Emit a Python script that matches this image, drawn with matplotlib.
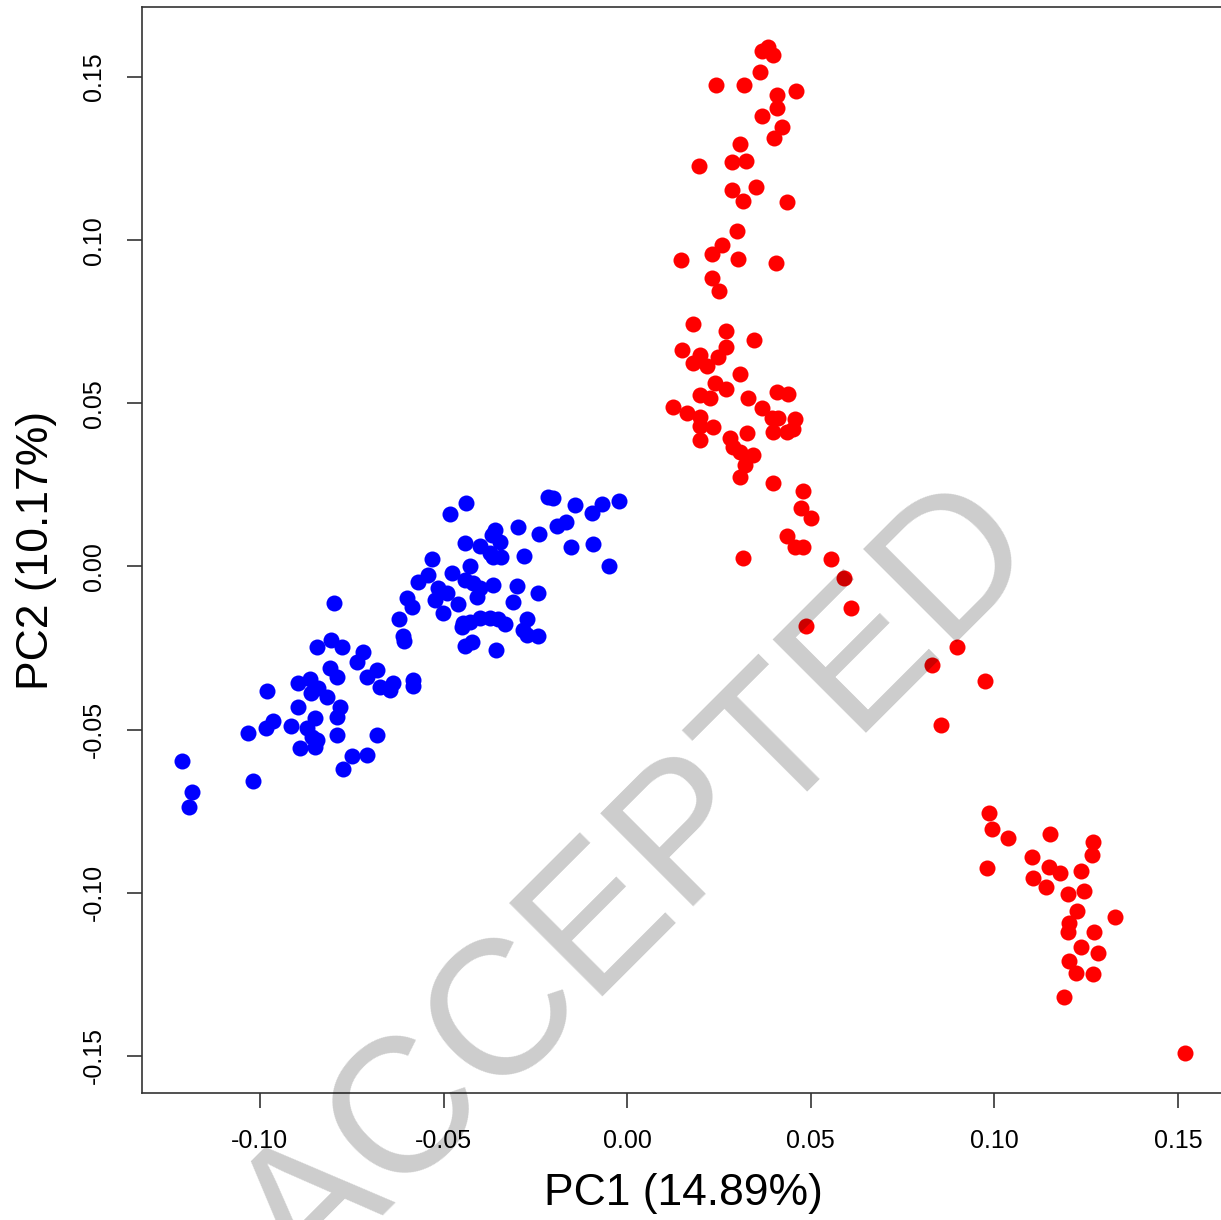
import numpy as np
import matplotlib
matplotlib.use('Agg')
import matplotlib.pyplot as plt

plt.rcParams['font.family'] = ['Liberation Sans', 'DejaVu Sans']
plt.rcParams['axes.unicode_minus'] = False

# PCA scores, group 1 (blue)
pc1_blue = [-0.1212, -0.1185, -0.1193, -0.1019, -0.1033, -0.0981, -0.0965, -0.0984,
            -0.0916, -0.0897, -0.0864, -0.0842, -0.0861, -0.0897, -0.0872, -0.0858,
            -0.0891, -0.0850, -0.0845, -0.0850, -0.0818, -0.0782, -0.0790, -0.0790,
            -0.0749, -0.0709, -0.0774, -0.0681, -0.0798, -0.0845, -0.0807, -0.0777,
            -0.0719, -0.0736, -0.0809, -0.0790, -0.0681, -0.0709, -0.0673, -0.0638,
            -0.0646, -0.0583, -0.0583, -0.0611, -0.0608, -0.0621, -0.0600, -0.0586,
            -0.0570, -0.0542, -0.0532, -0.0515, -0.0491, -0.0523, -0.0502, -0.0461,
            -0.0477, -0.0483, -0.0439, -0.0442, -0.0428, -0.0442, -0.0420, -0.0401,
            -0.0409, -0.0365, -0.0401, -0.0374, -0.0365, -0.0344, -0.0360, -0.0368,
            -0.0346, -0.0297, -0.0281, -0.0240, -0.0300, -0.0243, -0.0311, -0.0447,
            -0.0428, -0.0401, -0.0374, -0.0352, -0.0333, -0.0273, -0.0284, -0.0450,
            -0.0243, -0.0273, -0.0442, -0.0423, -0.0357, -0.0216, -0.0202, -0.0191,
            -0.0167, -0.0142, -0.0096, -0.0069, -0.0022, -0.0153, -0.0093, -0.0050]
pc2_blue = [-0.0596, -0.0691, -0.0737, -0.0657, -0.0510, -0.0382, -0.0473, -0.0495,
            -0.0489, -0.0357, -0.0345, -0.0372, -0.0388, -0.0431, -0.0495, -0.0523,
            -0.0556, -0.0553, -0.0532, -0.0464, -0.0400, -0.0431, -0.0461, -0.0516,
            -0.0581, -0.0578, -0.0621, -0.0516, -0.0112, -0.0247, -0.0225, -0.0247,
            -0.0262, -0.0293, -0.0311, -0.0339, -0.0317, -0.0339, -0.0369, -0.0357,
            -0.0378, -0.0348, -0.0366, -0.0213, -0.0228, -0.0161, -0.0097, -0.0124,
            -0.0048, -0.0026, 0.0023, -0.0066, -0.0081, -0.0103, -0.0143, -0.0115,
            -0.0020, 0.0161, 0.0195, 0.0072, 0.0002, -0.0041, -0.0051, -0.0066,
            -0.0093, -0.0057, 0.0063, 0.0041, 0.0029, 0.0029, 0.0112, 0.0097,
            0.0075, 0.0121, 0.0032, 0.0100, -0.0060, -0.0081, -0.0109, -0.0173,
            -0.0170, -0.0158, -0.0158, -0.0161, -0.0176, -0.0161, -0.0195, -0.0185,
            -0.0213, -0.0210, -0.0244, -0.0231, -0.0256, 0.0213, 0.0210, 0.0124,
            0.0136, 0.0188, 0.0164, 0.0192, 0.0201, 0.0060, 0.0069, 0.0002]

# PCA scores, group 2 (red)
pc1_red = [0.0367, 0.0383, 0.0397, 0.0362, 0.0242, 0.0318, 0.0408, 0.0460,
           0.0408, 0.0367, 0.0422, 0.0400, 0.0307, 0.0196, 0.0285, 0.0324,
           0.0351, 0.0285, 0.0315, 0.0435, 0.0299, 0.0258, 0.0231, 0.0302,
           0.0147, 0.0405, 0.0231, 0.0250, 0.0179, 0.0269, 0.0345, 0.0269,
           0.0149, 0.0198, 0.0247, 0.0179, 0.0217, 0.0307, 0.0239, 0.0269,
           0.0198, 0.0225, 0.0329, 0.0408, 0.0438, 0.0125, 0.0163, 0.0198,
           0.0367, 0.0394, 0.0411, 0.0457, 0.0234, 0.0198, 0.0326, 0.0280,
           0.0397, 0.0435, 0.0452, 0.0198, 0.0288, 0.0307, 0.0343, 0.0321,
           0.0307, 0.0397, 0.0479, 0.0473, 0.0501, 0.0435, 0.0457, 0.0479,
           0.0315, 0.0555, 0.0590, 0.0609, 0.0487, 0.0898, 0.0830, 0.0974,
           0.0855, 0.0985, 0.0993, 0.1037, 0.1151, 0.1269, 0.1266, 0.0980,
           0.1102, 0.1149, 0.1179, 0.1236, 0.1105, 0.1141, 0.1200, 0.1244,
           0.1225, 0.1328, 0.1203, 0.1200, 0.1271, 0.1236, 0.1282, 0.1203,
           0.1222, 0.1269, 0.1190, 0.1519]
pc2_red = [0.1580, 0.1592, 0.1568, 0.1515, 0.1476, 0.1476, 0.1445, 0.1457,
           0.1405, 0.1381, 0.1347, 0.1313, 0.1295, 0.1227, 0.1240, 0.1243,
           0.1163, 0.1154, 0.1120, 0.1117, 0.1028, 0.0985, 0.0958, 0.0942,
           0.0939, 0.0930, 0.0884, 0.0844, 0.0743, 0.0722, 0.0694, 0.0673,
           0.0663, 0.0648, 0.0642, 0.0624, 0.0614, 0.0590, 0.0562, 0.0544,
           0.0526, 0.0516, 0.0516, 0.0535, 0.0529, 0.0489, 0.0470, 0.0458,
           0.0486, 0.0455, 0.0455, 0.0452, 0.0428, 0.0431, 0.0409, 0.0394,
           0.0412, 0.0412, 0.0421, 0.0388, 0.0366, 0.0351, 0.0342, 0.0311,
           0.0274, 0.0256, 0.0231, 0.0179, 0.0149, 0.0093, 0.0060, 0.0060,
           0.0026, 0.0023, -0.0035, -0.0127, -0.0182, -0.0247, -0.0302, -0.0351,
           -0.0486, -0.0755, -0.0804, -0.0832, -0.0820, -0.0844, -0.0884, -0.0924,
           -0.0890, -0.0921, -0.0939, -0.0933, -0.0955, -0.0982, -0.1004, -0.0994,
           -0.1056, -0.1074, -0.1093, -0.1120, -0.1120, -0.1166, -0.1185, -0.1209,
           -0.1246, -0.1249, -0.1319, -0.1491]

xticks = [-0.10, -0.05, 0.00, 0.05, 0.10, 0.15]
yticks = [-0.15, -0.10, -0.05, 0.00, 0.05, 0.10, 0.15]
xlabel = 'PC1 (14.89%)'
ylabel = 'PC2 (10.17%)'

fig = plt.figure(figsize=(12.21, 12.20), dpi=100)
ax = fig.add_axes([142 / 1221, 1 - 1093 / 1220, (1225 - 142) / 1221, (1093 - 7) / 1220])

ax.scatter(pc1_blue, pc2_blue, s=133, color='#0000FF', linewidths=0, zorder=2)
ax.scatter(pc1_red, pc2_red, s=133, color='#FF0000', linewidths=0, zorder=2)

ax.set_xlim(-0.1321, 0.1628)
ax.set_ylim(-0.1614, 0.1715)
ax.set_xticks(xticks)
ax.set_xticklabels([f'{v:.2f}' for v in xticks])
ax.set_yticks(yticks)
ax.set_yticklabels([f'{v:.2f}' for v in yticks], rotation=90, va='center')

ax.tick_params(direction='out', length=11, width=1.2, color='#333333',
               labelsize=18, pad=15)
for side in ['left', 'bottom', 'top', 'right']:
    ax.spines[side].set_linewidth(1.2)
    ax.spines[side].set_color('#333333')

ax.set_xlabel(xlabel, fontsize=32, labelpad=14)
ax.set_ylabel(ylabel, fontsize=32, labelpad=18)

# watermark
fig.text(0.5242, 0.2713, 'ACCEPTED', fontsize=138, color='black', alpha=0.2,
         rotation=45, ha='center', va='center', zorder=10)

fig.savefig('out.png', dpi=100)
